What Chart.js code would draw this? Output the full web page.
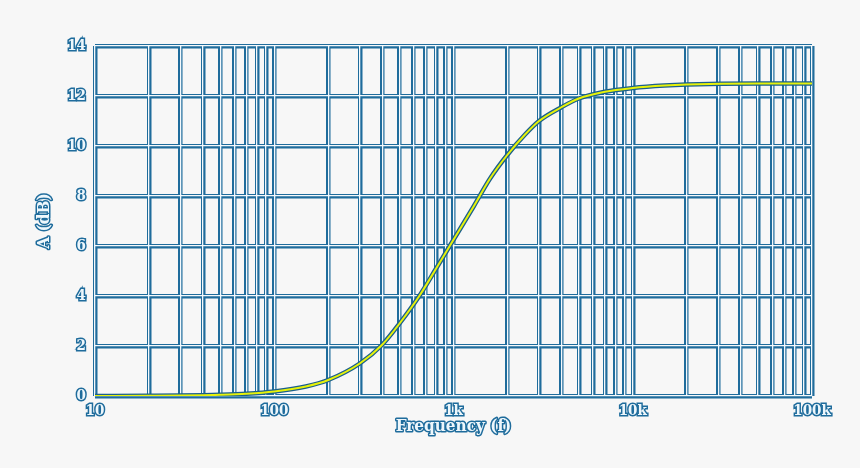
<!DOCTYPE html>
<html>
<head>
<meta charset="utf-8">
<script src="https://cdn.jsdelivr.net/npm/chart.js@4"></script>
<style>
  html, body { margin: 0; padding: 0; background: #f7f7f7; }
  #wrap { width: 860px; height: 468px; }
</style>
</head>
<body>
<div id="wrap"><canvas id="gain-chart" width="860" height="468"></canvas></div>
<script>
// Valores
const frequencies = [10, 20, 30, 50, 70, 100, 150, 200, 300, 400, 500, 650, 800, 1000, 1300, 1600, 2000, 2500, 3000, 4000, 5000, 7000, 10000, 15000, 20000, 50000, 100000];
const gainDb      = [0, 0.01, 0.02, 0.05, 0.09, 0.18, 0.38, 0.64, 1.3, 2.05, 2.9, 4.04, 5.1, 6.25, 7.6, 8.7, 9.65, 10.45, 11.0, 11.55, 11.9, 12.17, 12.32, 12.42, 12.46, 12.5, 12.5];

// Linhas de grade do eixo X (décadas e subdivisões)
const decades = [10, 100, 1000, 10000];
const multipliers = [1, 2, 3, 4, 5, 6, 7, 8, 9];
const xMajorLabels = { 10: '10', 100: '100', 1000: '1k', 10000: '10k', 100000: '100k' };
const yTicks = [0, 2, 4, 6, 8, 10, 12, 14];

const xTitle = 'Frequency (f)';
const yTitle = 'A (dB)';

const blue = '#1f6c9c';
const fontFamily = '"DejaVu Serif Condensed", "DejaVu Serif", serif';

const xGridValues = [];
decades.forEach(d => multipliers.forEach(m => xGridValues.push(d * m)));
xGridValues.push(100000);

const points = frequencies.map((f, i) => ({ x: f, y: gainDb[i] }));

function setXTicks(scale) {
    scale.ticks = xGridValues.map(v => ({ value: v }));
}
function setYTicks(scale) {
    scale.ticks = yTicks.map(v => ({ value: v }));
}

// Títulos dos eixos com contorno
const outlinedTitles = {
    id: 'outlinedTitles',
    afterDraw(chart) {
        const ctx = chart.ctx;
        const area = chart.chartArea;
        ctx.save();
        ctx.font = 'bold 17px ' + fontFamily;
        ctx.textAlign = 'center';
        ctx.textBaseline = 'middle';
        ctx.lineJoin = 'round';
        ctx.lineWidth = 3;
        ctx.strokeStyle = blue;
        ctx.fillStyle = '#eef7fc';
        const cx = (area.left + area.right) / 2;
        ctx.strokeText(xTitle, cx, 427);
        ctx.fillText(xTitle, cx, 427);
        ctx.translate(45, (area.top + area.bottom) / 2);
        ctx.rotate(-Math.PI / 2);
        ctx.strokeText(yTitle, 0, 0);
        ctx.fillText(yTitle, 0, 0);
        ctx.restore();
    }
};

const tickFont = { family: fontFamily, size: 15, weight: 'bold' };

const ctx = document.getElementById('gain-chart').getContext('2d');
const chart = new Chart(ctx, {
    type: 'line',
    data: {
        datasets: [
            {
                data: points,
                borderColor: '#e6f20a',
                borderWidth: 2,
                pointRadius: 0,
                cubicInterpolationMode: 'monotone',
                order: 0
            },
            {
                data: points,
                borderColor: '#1a5f8c',
                borderWidth: 4.5,
                pointRadius: 0,
                cubicInterpolationMode: 'monotone',
                order: 1
            }
        ]
    },
    options: {
        responsive: false,
        animation: false,
        layout: { padding: { top: 46, right: 48, left: 0, bottom: 0 } },
        plugins: {
            legend: { display: false },
            tooltip: { enabled: false }
        },
        scales: {
            x: {
                type: 'logarithmic',
                min: 10,
                max: 100000,
                afterBuildTicks: setXTicks,
                afterFit: s => { s.height = 72; },
                border: { display: false },
                grid: { color: blue, lineWidth: 4.5, drawTicks: false },
                ticks: {
                    autoSkip: false,
                    maxRotation: 0,
                    padding: 6,
                    font: tickFont,
                    color: '#eef7fc',
                    textStrokeColor: blue,
                    textStrokeWidth: 3,
                    callback: v => xMajorLabels[v] || ''
                }
            },
            y: {
                min: 0,
                max: 14,
                afterBuildTicks: setYTicks,
                afterFit: s => { s.width = 95; },
                border: { display: false },
                grid: { color: blue, lineWidth: 4.5, drawTicks: false },
                ticks: {
                    padding: 9,
                    font: tickFont,
                    color: '#eef7fc',
                    textStrokeColor: blue,
                    textStrokeWidth: 3
                }
            },
            // linhas brancas no centro da grade
            x2: {
                type: 'logarithmic',
                position: 'top',
                min: 10,
                max: 100000,
                afterBuildTicks: setXTicks,
                afterFit: s => { s.height = 0; },
                border: { display: false },
                grid: { color: '#f4f9fc', lineWidth: 1.3, drawTicks: false, z: -0.5 },
                ticks: { display: false }
            },
            y2: {
                position: 'right',
                min: 0,
                max: 14,
                afterBuildTicks: setYTicks,
                afterFit: s => { s.width = 0; },
                border: { display: false },
                grid: { color: '#f4f9fc', lineWidth: 1.3, drawTicks: false, z: -0.5 },
                ticks: { display: false }
            }
        }
    },
    plugins: [outlinedTitles]
});
</script>
</body>
</html>
